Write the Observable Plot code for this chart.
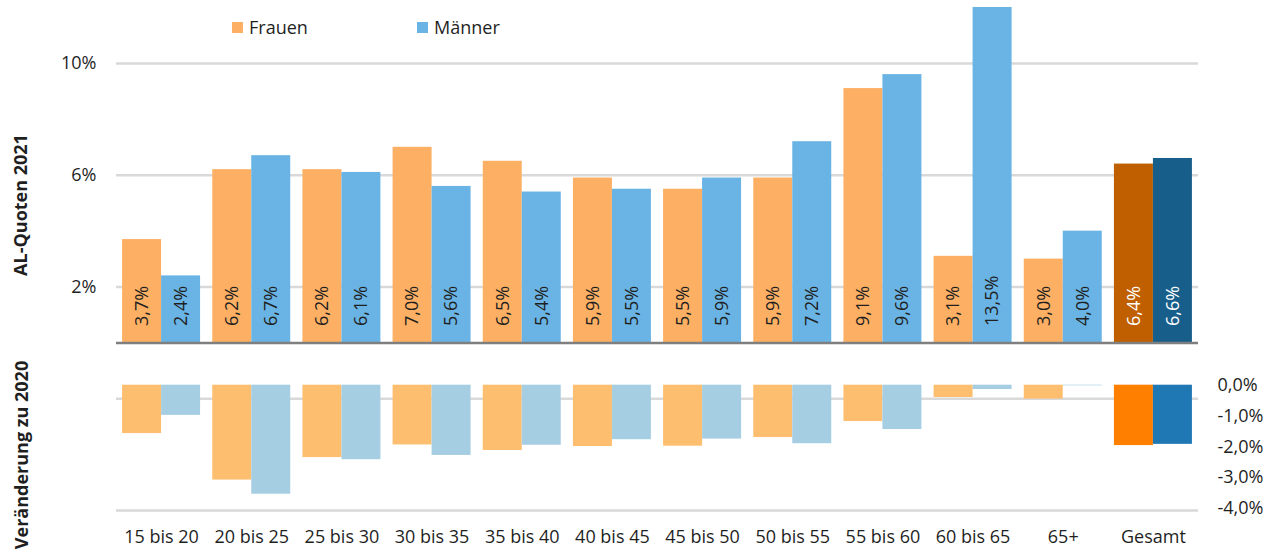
<!DOCTYPE html>
<html>
<head>
<meta charset="utf-8">
<script src="https://cdn.jsdelivr.net/npm/d3@7"></script>
<script src="https://cdn.jsdelivr.net/npm/@observablehq/plot@0.6"></script>
<style>
  body { margin: 0; background: #fff; }
  #chart { position: relative; width: 1269px; height: 552px; overflow: hidden; font-family: "Open Sans", sans-serif; color: #1f1f1f; }
  #chart svg { display: block; }
  #bottomPlot { margin-top: 5px; }
  .legend-item { position: absolute; top: 16px; height: 22px; line-height: 22px; font-size: 18px; display: flex; align-items: center; white-space: nowrap; }
  .swatch { width: 11px; height: 11px; margin-right: 6px; display: inline-block; }
  .ytitle { position: absolute; font-size: 18px; font-weight: bold; white-space: nowrap; transform: translate(-50%, -50%) rotate(-90deg); }
</style>
</head>
<body>
<div id="chart">
  <div id="topPlot"></div>
  <div id="bottomPlot"></div>
</div>
<script>
// ---- data ----
const categories = ["15 bis 20", "20 bis 25", "25 bis 30", "30 bis 35", "35 bis 40", "40 bis 45",
                    "45 bis 50", "50 bis 55", "55 bis 60", "60 bis 65", "65+", "Gesamt"];
const seriesNames = ["Frauen", "Männer"];
const quoteFrauen  = [3.7, 6.2, 6.2, 7.0, 6.5, 5.9, 5.5, 5.9, 9.1, 3.1, 3.0, 6.4];
const quoteMaenner = [2.4, 6.7, 6.1, 5.6, 5.4, 5.5, 5.9, 7.2, 9.6, 13.5, 4.0, 6.6];
const changeFrauen  = [-1.57, -3.08, -2.35, -1.94, -2.12, -1.99, -1.98, -1.70, -1.18, -0.40, -0.45, -1.96];
const changeMaenner = [-0.98, -3.54, -2.42, -2.28, -1.95, -1.77, -1.75, -1.90, -1.44, -0.14, -0.02, -1.92];
const quoteTicks = [2, 6, 10];
const quoteTickLabels = ["2%", "6%", "10%"];
const changeTicks = [0, -1, -2, -3, -4];
const changeTickLabels = ["0,0%", "-1,0%", "-2,0%", "-3,0%", "-4,0%"];
const changeGridLines = [-0.44, -4.07];
const titleTop = "AL-Quoten 2021";
const titleBottom = "Veränderung zu 2020";
const totalCategory = "Gesamt";

// ---- styles ----
const palette = {
  top:         { "Frauen": "#fdb064", "Männer": "#69b4e4" },
  topTotal:    { "Frauen": "#bf5f00", "Männer": "#185e8a" },
  bottom:      { "Frauen": "#fdbf6f", "Männer": "#a6cee3" },
  bottomTotal: { "Frauen": "#ff7f00", "Männer": "#1f77b4" }
};
const gridColor = "#d9d9d9";
const halfBar = 39;

const fmt = v => v.toFixed(1).replace(".", ",") + "%";

const quoteRows = categories.flatMap((c, i) => [
  { cat: c, sex: seriesNames[0], v: quoteFrauen[i] },
  { cat: c, sex: seriesNames[1], v: quoteMaenner[i] }
]);
const changeRows = categories.flatMap((c, i) => [
  { cat: c, sex: seriesNames[0], v: changeFrauen[i] },
  { cat: c, sex: seriesNames[1], v: changeMaenner[i] }
]);

const style = { fontFamily: "'Open Sans', sans-serif", fontSize: "18px", color: "#1f1f1f", background: "transparent", overflow: "visible" };
const xBand = { domain: categories, paddingInner: 0.135, paddingOuter: 0.0675, round: false };

const topFill = d => (d.cat === totalCategory ? palette.topTotal : palette.top)[d.sex];
const bottomFill = d => (d.cat === totalCategory ? palette.bottomTotal : palette.bottom)[d.sex];
const labelFill = d => d.cat === totalCategory ? "#ffffff" : "#1f1f1f";

const F = rows => rows.filter(d => d.sex === seriesNames[0]);
const M = rows => rows.filter(d => d.sex === seriesNames[1]);

const topChart = Plot.plot({
  width: 1269, height: 345,
  marginLeft: 116, marginRight: 71, marginTop: 7, marginBottom: 2.5,
  style,
  x: { ...xBand, axis: null },
  y: { domain: [0, 12] },
  color: { type: "identity" },
  marks: [
    Plot.gridY(quoteTicks, { stroke: gridColor, strokeOpacity: 1, strokeWidth: 2.5 }),
    Plot.axisY(quoteTicks, { tickSize: 0, tickPadding: 20, label: null,
      tickFormat: d => quoteTickLabels[quoteTicks.indexOf(d)] }),
    Plot.barY(F(quoteRows), { x: "cat", y: "v", fill: topFill, insetRight: halfBar, clip: true }),
    Plot.barY(M(quoteRows), { x: "cat", y: "v", fill: topFill, insetLeft: halfBar, clip: true }),
    Plot.ruleY([0], { stroke: "#7f7f7f", strokeWidth: 2.5 }),
    Plot.text(F(quoteRows), { x: "cat", y: () => 0, text: d => fmt(d.v), fill: labelFill,
      rotate: -90, textAnchor: "start", lineAnchor: "middle", dx: -19.5, dy: -17 }),
    Plot.text(M(quoteRows), { x: "cat", y: () => 0, text: d => fmt(d.v), fill: labelFill,
      rotate: -90, textAnchor: "start", lineAnchor: "middle", dx: 19.5, dy: -17 })
  ]
});
document.getElementById("topPlot").appendChild(topChart);

const bottomChart = Plot.plot({
  width: 1269, height: 202,
  marginLeft: 116, marginRight: 71, marginTop: 34.7, marginBottom: 44.1,
  style,
  x: { ...xBand },
  y: { domain: [-4, 0] },
  color: { type: "identity" },
  marks: [
    Plot.ruleY(changeGridLines, { stroke: gridColor, strokeWidth: 2.5 }),
    Plot.axisY(changeTicks, { anchor: "right", tickSize: 0, tickPadding: 19, label: null,
      tickFormat: d => changeTickLabels[changeTicks.indexOf(d)] }),
    Plot.axisX({ tickSize: 0, tickPadding: 22, label: null }),
    Plot.barY(F(changeRows), { x: "cat", y: "v", fill: bottomFill, insetRight: halfBar }),
    Plot.barY(M(changeRows), { x: "cat", y: "v", fill: bottomFill, insetLeft: halfBar })
  ]
});
document.getElementById("bottomPlot").appendChild(bottomChart);

// ---- legend and titles ----
const chart = document.getElementById("chart");
const legendLeft = [232, 417];
seriesNames.forEach((name, i) => {
  const item = document.createElement("div");
  item.className = "legend-item";
  item.style.left = legendLeft[i] + "px";
  const sw = document.createElement("span");
  sw.className = "swatch";
  sw.style.background = palette.top[name];
  item.appendChild(sw);
  item.appendChild(document.createTextNode(name));
  chart.appendChild(item);
});
function addTitle(text, cx, cy) {
  const t = document.createElement("div");
  t.className = "ytitle";
  t.textContent = text;
  t.style.left = cx + "px";
  t.style.top = cy + "px";
  chart.appendChild(t);
}
addTitle(titleTop, 19.5, 204.5);
addTitle(titleBottom, 21, 455);
</script>
</body>
</html>
